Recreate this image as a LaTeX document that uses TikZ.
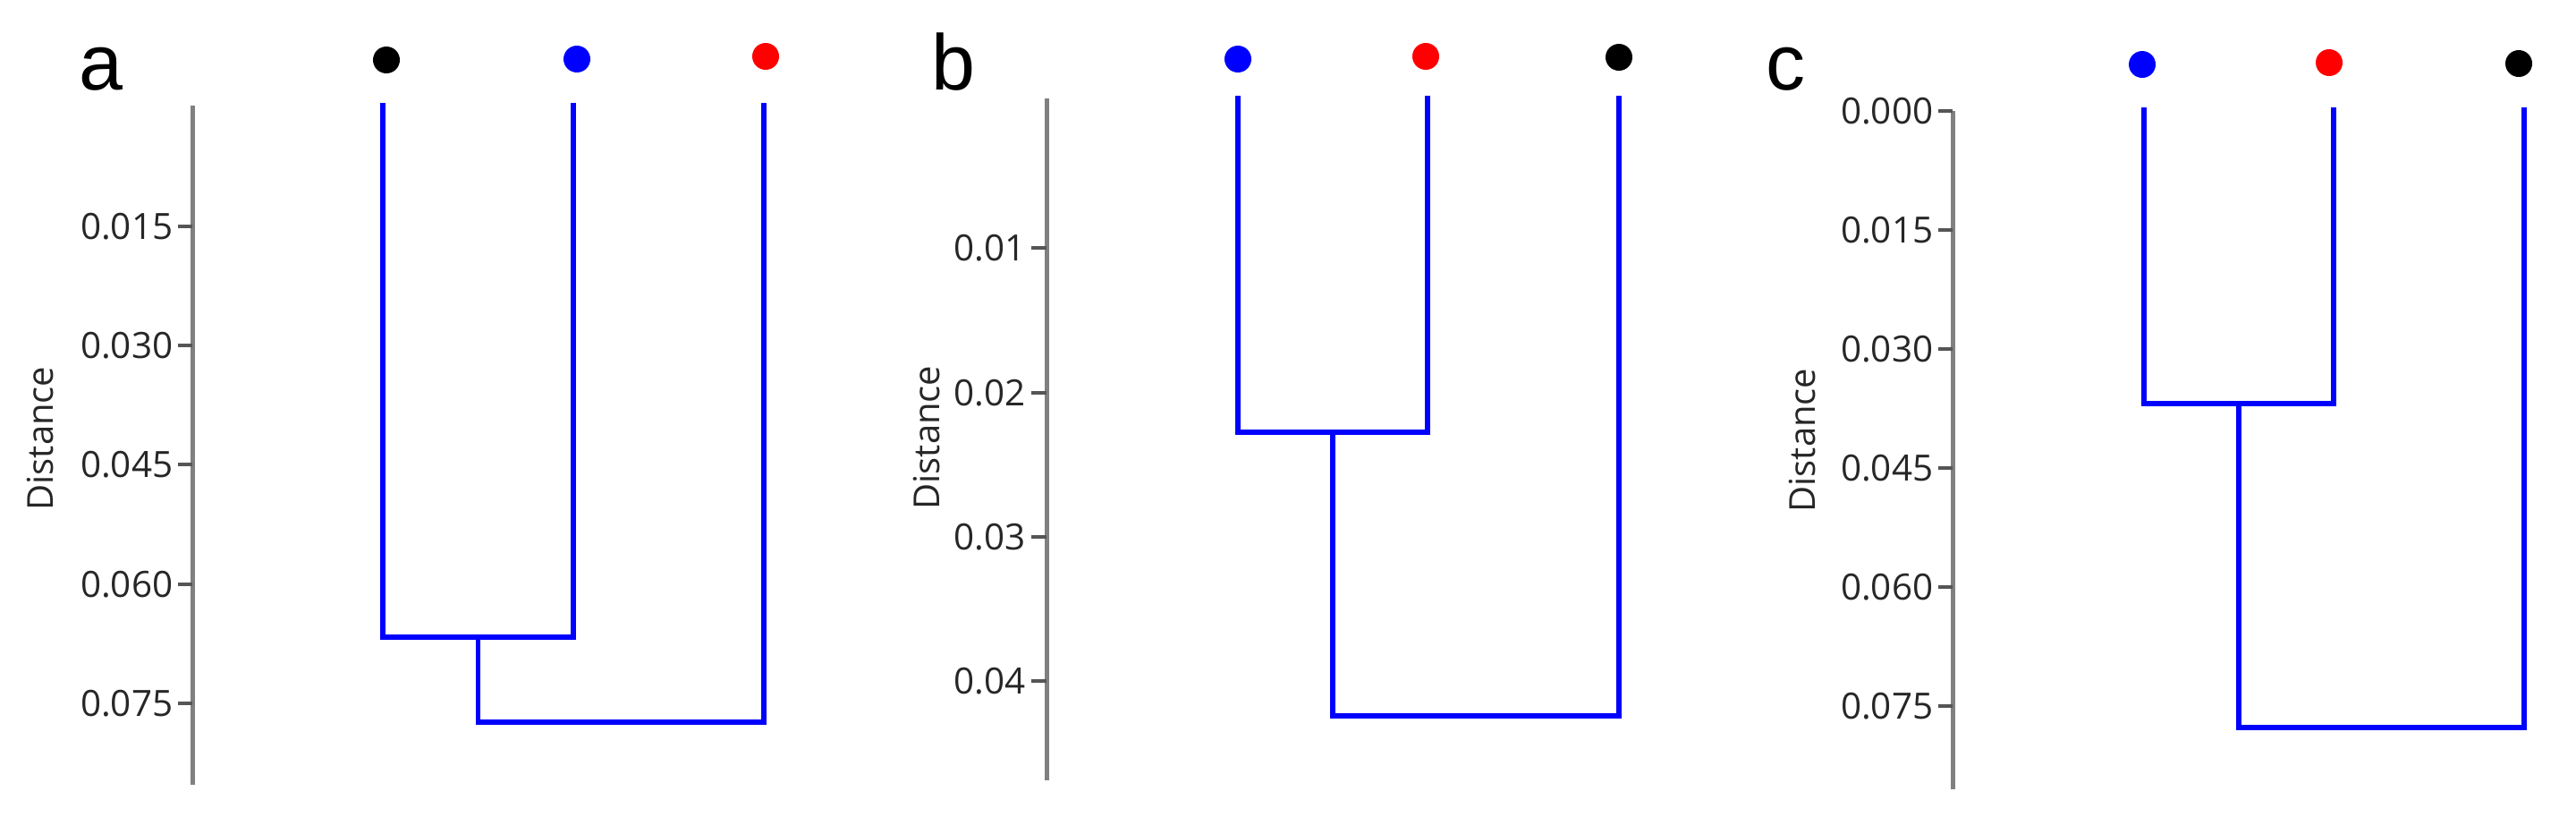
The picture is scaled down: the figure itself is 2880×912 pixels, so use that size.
\documentclass[tikz,border=0pt]{standalone}
\usepackage{fontspec}
\setmainfont{Open Sans}
\newfontfamily\panelfont{Liberation Sans}
\definecolor{axisgray}{HTML}{808080}
\definecolor{tickgray}{HTML}{555555}
\definecolor{treeblue}{HTML}{0000FF}
\definecolor{dotred}{HTML}{FF0000}
\definecolor{dotblue}{HTML}{0000FF}
\begin{document}
\begin{tikzpicture}[x=0.25pt,y=-0.25pt,
  axisline/.style={draw=axisgray,line width=1.25pt},
  tickmark/.style={draw=tickgray,line width=0.8pt},
  ticklabel/.style={anchor=east,inner sep=0pt,font=\fontsize{10.1}{12}\selectfont,text=black!85},
  axistitle/.style={rotate=90,inner sep=0pt,font=\fontsize{10}{12}\selectfont,text=black!85},
  panellabel/.style={anchor=base west,inner sep=0pt,font=\panelfont\fontsize{22}{26}\selectfont},
  leafdot/.style={circle,inner sep=0pt,minimum size=7.5pt},
  branch/.style={draw=treeblue,line width=1.375pt,line join=miter,line cap=rect}]
\useasboundingbox (0,0) rectangle (2880,912);

% ---------------- panel a ----------------
\node[panellabel] (la) at (88,100) {a};
\coordinate (axAt) at (215,118);
\coordinate (axAb) at (215,877);
\draw[axisline] (axAt) -- (axAb);
\foreach \y/\t [count=\i] in {253/0.015,386/0.030,519/0.045,653/0.060,786/0.075}{
  \coordinate (tA\i) at (199,\y);
  \coordinate (tAe\i) at (215,\y);
  \draw[tickmark] (tA\i) -- (tAe\i);
  \node[ticklabel] (tlA\i) at (194,\y) {\t};
}
\node[axistitle] (dA) at (45,490) {Distance};
\node[leafdot,fill=black] (a1) at (432,67) {};
\node[leafdot,fill=dotblue] (a2) at (645,66) {};
\node[leafdot,fill=dotred] (a3) at (856,63) {};
\coordinate (a1t) at (428,118);
\coordinate (a2t) at (641,118);
\coordinate (a3t) at (854,118);
\coordinate (a1j) at (428,712);
\coordinate (a2j) at (641,712);
\coordinate (a12) at (534.5,712);
\coordinate (a12j) at (534.5,807);
\coordinate (a3j) at (854,807);
\draw[branch] (a1t) -- (a1j) -- (a2j) -- (a2t);
\draw[branch] (a12) -- (a12j) -- (a3j) -- (a3t);

% ---------------- panel b ----------------
\node[panellabel] (lb) at (1041,100) {b};
\coordinate (axBt) at (1170,110);
\coordinate (axBb) at (1170,872);
\draw[axisline] (axBt) -- (axBb);
\foreach \y/\t [count=\i] in {277/0.01,439/0.02,600/0.03,761/0.04}{
  \coordinate (tB\i) at (1153,\y);
  \coordinate (tBe\i) at (1170,\y);
  \draw[tickmark] (tB\i) -- (tBe\i);
  \node[ticklabel] (tlB\i) at (1147,\y) {\t};
}
\node[axistitle] (dB) at (1036,489) {Distance};
\node[leafdot,fill=dotblue] (b1) at (1384,66) {};
\node[leafdot,fill=dotred] (b2) at (1594,63) {};
\node[leafdot,fill=black] (b3) at (1810,64) {};
\coordinate (b1t) at (1384,110);
\coordinate (b2t) at (1596,110);
\coordinate (b3t) at (1810,110);
\coordinate (b1j) at (1384,483);
\coordinate (b2j) at (1596,483);
\coordinate (b12) at (1490,483);
\coordinate (b12j) at (1490,800);
\coordinate (b3j) at (1810,800);
\draw[branch] (b1t) -- (b1j) -- (b2j) -- (b2t);
\draw[branch] (b12) -- (b12j) -- (b3j) -- (b3t);

% ---------------- panel c ----------------
\node[panellabel] (lc) at (1974,100) {c};
\coordinate (axCt) at (2183,124);
\coordinate (axCb) at (2183,882);
\draw[axisline] (axCt) -- (axCb);
\foreach \y/\t [count=\i] in {124/0.000,257/0.015,390/0.030,523/0.045,656/0.060,789/0.075}{
  \coordinate (tC\i) at (2167,\y);
  \coordinate (tCe\i) at (2183,\y);
  \draw[tickmark] (tC\i) -- (tCe\i);
  \node[ticklabel] (tlC\i) at (2162,\y) {\t};
}
\node[axistitle] (dC) at (2015,492) {Distance};
\node[leafdot,fill=dotblue] (c1) at (2395,72) {};
\node[leafdot,fill=dotred] (c2) at (2604,70) {};
\node[leafdot,fill=black] (c3) at (2816,71) {};
\coordinate (c1t) at (2397,123);
\coordinate (c2t) at (2609,123);
\coordinate (c3t) at (2822,123);
\coordinate (c1j) at (2397,451);
\coordinate (c2j) at (2609,451);
\coordinate (c12) at (2503,451);
\coordinate (c12j) at (2503,813);
\coordinate (c3j) at (2822,813);
\draw[branch] (c1t) -- (c1j) -- (c2j) -- (c2t);
\draw[branch] (c12) -- (c12j) -- (c3j) -- (c3t);
\end{tikzpicture}
\end{document}
